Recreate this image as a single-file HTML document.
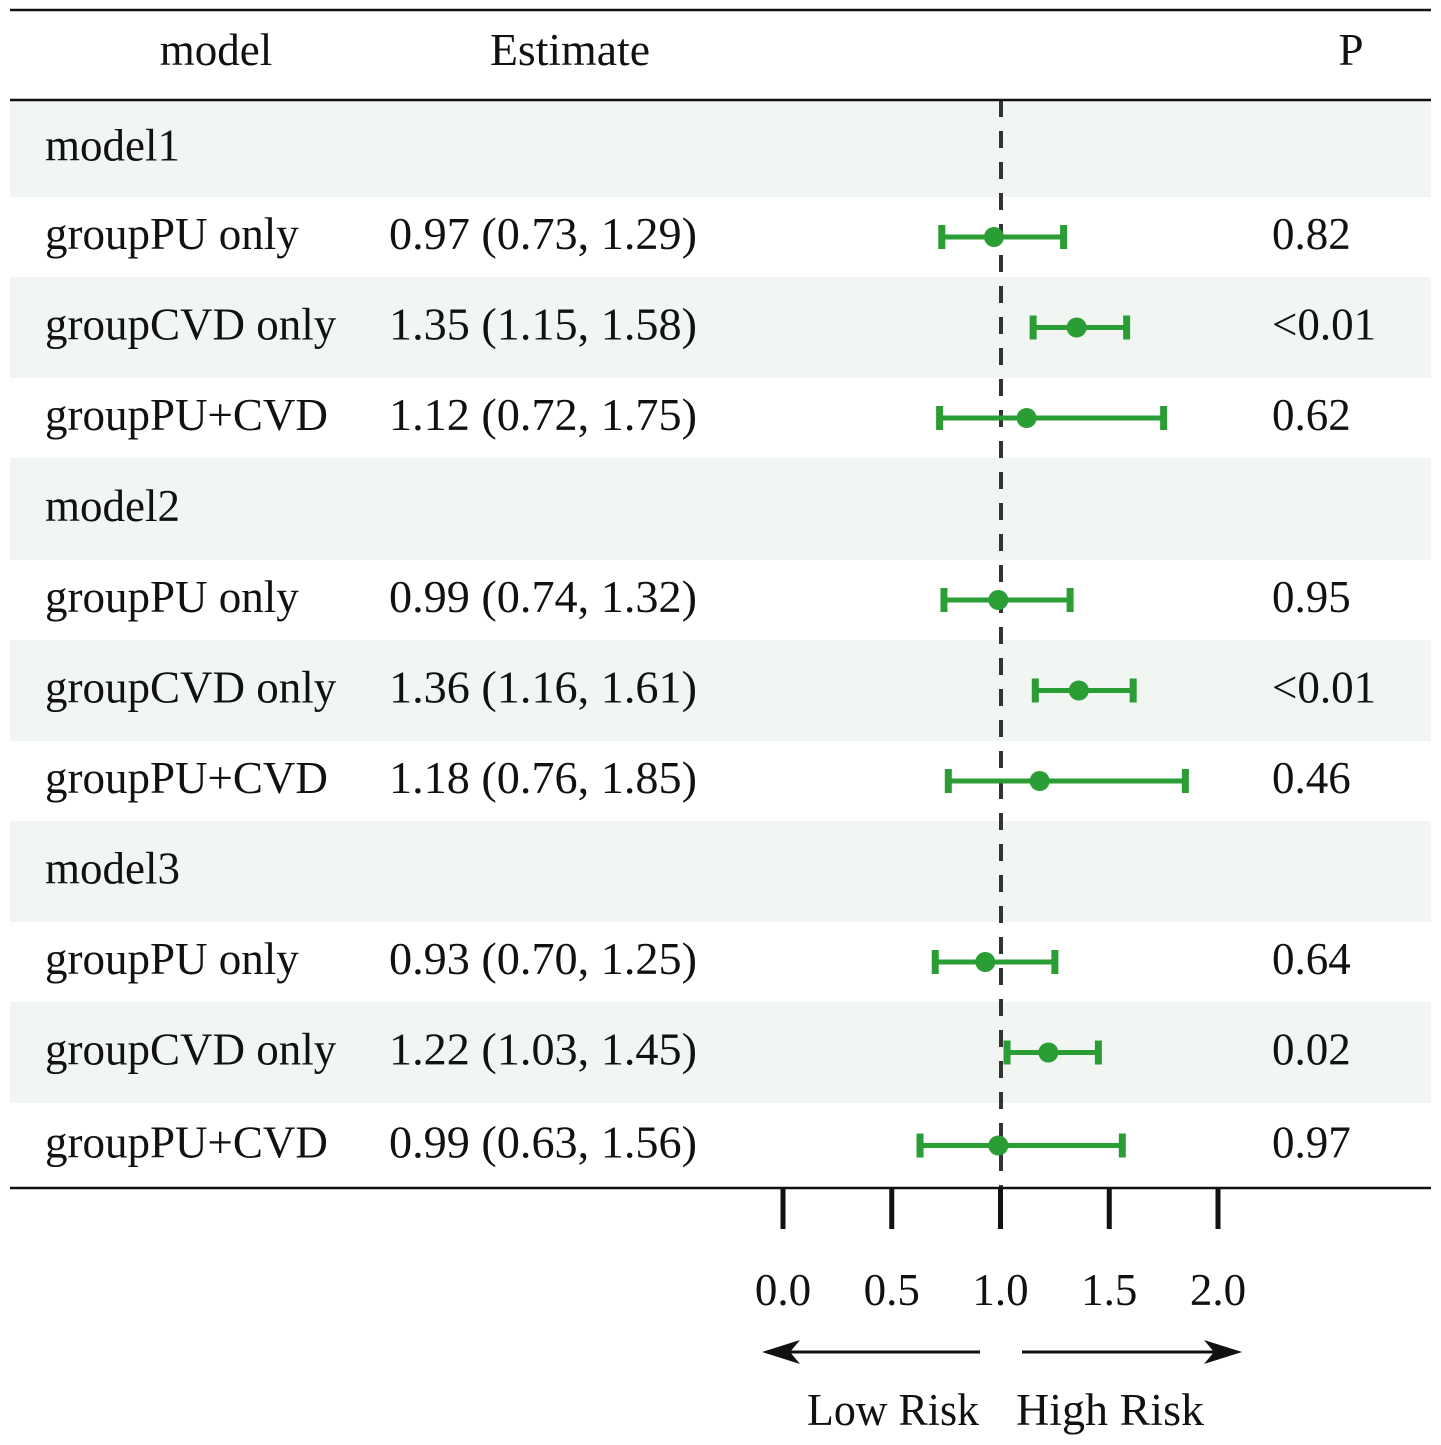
<!DOCTYPE html>
<html><head><meta charset="utf-8"><style>
body{margin:0;background:#fff}
svg{display:block}
text{font-family:"Liberation Serif",serif;font-size:45px;fill:#111}
</style></head><body>
<svg id="chart" width="1441" height="1445" viewBox="0 0 1441 1445">
<g id="bands"></g>
<g id="texts"></g>
<line x1="1001" y1="100" x2="1001" y2="1188" stroke="#333" stroke-width="4" stroke-dasharray="17,14"/>
<g id="marks"></g>
<line x1="10" y1="10" x2="1431" y2="10" stroke="#111" stroke-width="2.5"/>
<line x1="10" y1="100" x2="1431" y2="100" stroke="#111" stroke-width="2.5"/>
<line x1="10" y1="1188" x2="1431" y2="1188" stroke="#111" stroke-width="2.5"/>
<text x="216" y="65" text-anchor="middle">model</text>
<text x="570" y="65" text-anchor="middle" textLength="160" lengthAdjust="spacingAndGlyphs">Estimate</text>
<text x="1351" y="65" text-anchor="middle">P</text>
<g id="axis"></g>
<g><line x1="980" y1="1352" x2="775" y2="1352" stroke="#111" stroke-width="3"/><path d="M762,1352 L800,1340 L790,1352 L800,1364 Z" fill="#111"/></g>
<g><line x1="1022" y1="1352" x2="1228" y2="1352" stroke="#111" stroke-width="3"/><path d="M1242,1352 L1204,1340 L1214,1352 L1204,1364 Z" fill="#111"/></g>
<text x="893" y="1425" text-anchor="middle" textLength="172" lengthAdjust="spacingAndGlyphs">Low Risk</text>
<text x="1110" y="1425" text-anchor="middle" textLength="188" lengthAdjust="spacingAndGlyphs">High Risk</text>
</svg>
<script>
const labels=["model1","groupPU only","groupCVD only","groupPU+CVD","model2","groupPU only","groupCVD only","groupPU+CVD","model3","groupPU only","groupCVD only","groupPU+CVD"];
const estimates=[null,0.97,1.35,1.12,null,0.99,1.36,1.18,null,0.93,1.22,0.99];
const lowers=[null,0.73,1.15,0.72,null,0.74,1.16,0.76,null,0.70,1.03,0.63];
const uppers=[null,1.29,1.58,1.75,null,1.32,1.61,1.85,null,1.25,1.45,1.56];
const pvalues=["","0.82","<0.01","0.62","","0.95","<0.01","0.46","","0.64","0.02","0.97"];
const ticks=[0,0.5,1,1.5,2];
const tickLabels=["0.0","0.5","1.0","1.5","2.0"];
const NS="http://www.w3.org/2000/svg";
const x=v=>783+v*217.5;
const bandTop=[100,197,277,378,458,560,640,741,821,922,1002,1103,1188];
const rowY=i=>(bandTop[i]+bandTop[i+1])/2;
function mk(tag,attrs,parent){const e=document.createElementNS(NS,tag);for(const k in attrs)e.setAttribute(k,attrs[k]);document.getElementById(parent).appendChild(e);return e;}
labels.forEach((lab,i)=>{
  const y=rowY(i);
  if(i%2===0){const b=mk("rect",{x:10,y:bandTop[i],width:1421,height:bandTop[i+1]-bandTop[i],fill:"#f1f6f2"},"bands");
    
    }
  const t=mk("text",{x:45,y:y+12},"texts");t.textContent=lab;
  
  
  if(estimates[i]!==null){
    const e=mk("text",{x:389,y:y+12,textLength:308,lengthAdjust:"spacingAndGlyphs"},"texts");e.textContent=estimates[i].toFixed(2)+" ("+lowers[i].toFixed(2)+", "+uppers[i].toFixed(2)+")";
    
    
    const p=mk("text",{x:1272,y:y+12},"texts");p.textContent=pvalues[i];
    
    
    const g=mk("g",{stroke:"#2a9d35","stroke-width":5,fill:"#2a9d35"},"marks");
    
    
    const a=x(lowers[i]),b=x(uppers[i]),c=x(estimates[i]);
    [["line",{x1:a,y1:y,x2:b,y2:y}],["line",{x1:a,y1:y-12,x2:a,y2:y+12,"stroke-width":7}],["line",{x1:b,y1:y-12,x2:b,y2:y+12,"stroke-width":7}],["circle",{cx:c,cy:y,r:10,stroke:"none"}]].forEach(([tg,at])=>{const el=document.createElementNS(NS,tg);for(const k in at)el.setAttribute(k,at[k]);g.appendChild(el);});
  }
});
ticks.forEach((v,i)=>{
  const l=mk("line",{x1:x(v),y1:1189,x2:x(v),y2:1229,stroke:"#111","stroke-width":5},"axis");
  
  
  const t=mk("text",{x:x(v),y:1305,"text-anchor":"middle"},"axis");t.textContent=tickLabels[i];
  
  
});
</script>
</body></html>
